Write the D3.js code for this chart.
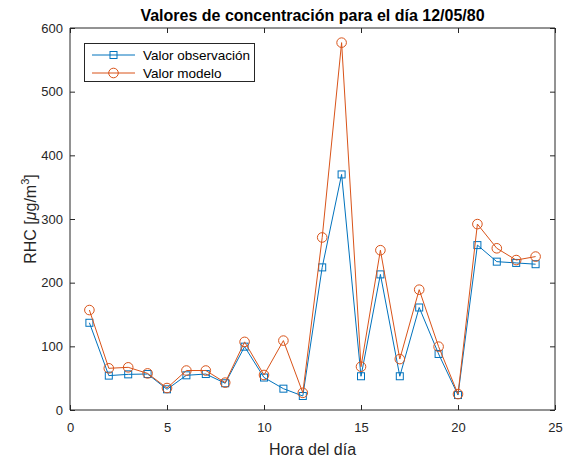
<!DOCTYPE html>
<html><head><meta charset="utf-8">
<script src="https://cdn.jsdelivr.net/npm/d3@7"></script>
<style>body{margin:0;background:#fff}svg{display:block}text{font-family:"Liberation Sans",Arial,sans-serif}</style>
</head><body><svg id="c" width="573" height="460"></svg>
<script>
const hours = [1,2,3,4,5,6,7,8,9,10,11,12,13,14,15,16,17,18,19,20,21,22,23,24];
const observacion = [137,54,56,56.5,32.5,54.5,56.5,42,99.5,51,33.5,22,224,370,53,213,53,161,88,23.5,259,233,231,229];
const modelo = [157,65.5,67,57.5,34.5,62,62,43,107,55,109,27,271,577,68,251,80,189,99.5,25,292,254,235.5,241];
const xTicks = [0,5,10,15,20,25];
const yTicks = [0,100,200,300,400,500,600];
const seriesNames = ["Valor observación","Valor modelo"];

const svg = d3.select("#c");
const m = {l:70, r:555, t:28, b:410};
const x = d3.scaleLinear().domain([0,25]).range([m.l,m.r]);
const y = d3.scaleLinear().domain([0,600]).range([m.b,m.t]);
const axCol = "#262626", tickLabCol = "#262626";

const gx = svg.append("g").attr("transform",`translate(0,${m.b})`)
  .call(d3.axisBottom(x).tickValues(xTicks).tickSize(-5).tickPadding(12.5));
const gxt = svg.append("g").attr("transform",`translate(0,${m.t})`)
  .call(d3.axisTop(x).tickValues(xTicks).tickSize(-5).tickFormat(""));
const gy = svg.append("g").attr("transform",`translate(${m.l},0)`)
  .call(d3.axisLeft(y).tickValues(yTicks).tickSize(-5).tickPadding(7));
const gyr = svg.append("g").attr("transform",`translate(${m.r},0)`)
  .call(d3.axisRight(y).tickValues(yTicks).tickSize(-5).tickFormat(""));
[gx,gxt,gy,gyr].forEach(g=>{
  g.select(".domain").attr("stroke",axCol).attr("stroke-width",1);
  g.selectAll(".tick line").attr("stroke",axCol);
  g.selectAll(".tick text").attr("fill",tickLabCol).style("font-size","13px");
});
gx.selectAll(".domain").attr("d",`M${m.l},0H${m.r}`);
gxt.selectAll(".domain").attr("d",`M${m.l},0H${m.r}`);
gy.selectAll(".domain").attr("d",`M0,${m.b}V${m.t}`);
gyr.selectAll(".domain").attr("d",`M0,${m.b}V${m.t}`);

const colors = ["#0072BD","#D95319"];
const data = [observacion, modelo];
const line = d3.line().x((d,i)=>x(hours[i])).y(d=>y(d));
data.forEach((vals,k)=>{
  svg.append("path").datum(vals).attr("d",line).attr("fill","none")
    .attr("stroke",colors[k]).attr("stroke-width",1);
  const g = svg.append("g");
  if(k===0){
    g.selectAll("rect").data(vals).enter().append("rect")
      .attr("x",(d,i)=>x(hours[i])-3.5).attr("y",d=>y(d)-3.5)
      .attr("width",7).attr("height",7).attr("fill","none")
      .attr("stroke",colors[k]).attr("stroke-width",1);
  } else {
    g.selectAll("circle").data(vals).enter().append("circle")
      .attr("cx",(d,i)=>x(hours[i])).attr("cy",d=>y(d)).attr("r",4.8)
      .attr("fill","none").attr("stroke",colors[k]).attr("stroke-width",1);
  }
});

const lg = svg.append("g");
lg.append("rect").attr("x",84.5).attr("y",43.5).attr("width",170).attr("height",38)
  .attr("fill","#fff").attr("stroke",axCol).attr("stroke-width",1);
seriesNames.forEach((n,k)=>{
  const yy = 55 + k*18;
  lg.append("line").attr("x1",92).attr("x2",135).attr("y1",yy).attr("y2",yy)
    .attr("stroke",colors[k]).attr("stroke-width",1);
  if(k===0) lg.append("rect").attr("x",113.5-3.5).attr("y",yy-3.5).attr("width",7).attr("height",7)
    .attr("fill","none").attr("stroke",colors[k]);
  else lg.append("circle").attr("cx",113.5).attr("cy",yy).attr("r",4.8)
    .attr("fill","none").attr("stroke",colors[k]);
  lg.append("text").attr("x",143).attr("y",yy).attr("dy","0.35em")
    .style("font-size","13.5px").attr("fill","#000").text(n);
});

svg.append("text").attr("x",(m.l+m.r)/2).attr("y",20.5).attr("text-anchor","middle")
  .style("font-size","16px").style("font-weight","bold").attr("fill","#000")
  .text("Valores de concentración para el día 12/05/80");
svg.append("text").attr("x",(m.l+m.r)/2).attr("y",455).attr("text-anchor","middle")
  .style("font-size","16px").attr("fill",tickLabCol).text("Hora del día");
const yl = svg.append("text").attr("transform",`translate(36,${(m.t+m.b)/2}) rotate(-90)`)
  .attr("text-anchor","middle").style("font-size","16px").attr("fill",tickLabCol);
yl.append("tspan").text("RHC [");
yl.append("tspan").style("font-style","italic").text("μ");
yl.append("tspan").text("g/m");
yl.append("tspan").attr("dy","-7").style("font-size","11px").text("3");
yl.append("tspan").attr("dy","7").text("]");
</script></body></html>
